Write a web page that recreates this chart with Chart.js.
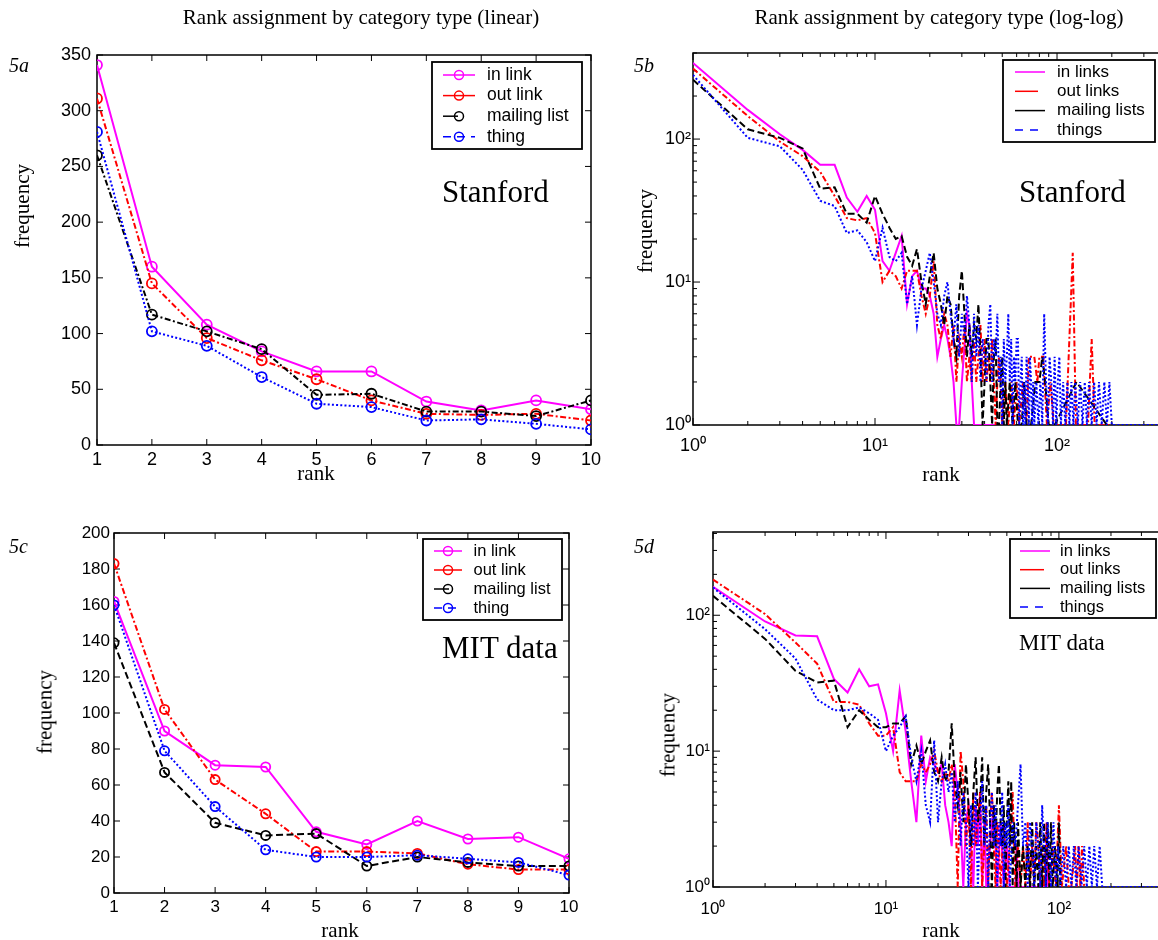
<!DOCTYPE html>
<html>
<head>
<meta charset="utf-8">
<script src="https://cdn.jsdelivr.net/npm/chart.js@4.4.1/dist/chart.umd.min.js"></script>
<style>
html, body { margin: 0; padding: 0; overflow: hidden; background: #fff; }
#page { position: relative; width: 1158px; height: 940px; overflow: hidden; }
canvas { position: absolute; }
.t { position: absolute; font-family: "Liberation Serif", "Times New Roman", serif; line-height: 1; white-space: nowrap; color: #000; }
.c { transform: translateX(-50%); }
.v { transform: translate(-50%, -50%) rotate(-90deg); }
</style>
</head>
<body>
<div id="page">
<canvas id="cA" width="610" height="480" style="left:0;top:0"></canvas>
<canvas id="cB" width="620" height="480" style="left:610px;top:0"></canvas>
<canvas id="cC" width="610" height="470" style="left:0;top:470px"></canvas>
<canvas id="cD" width="620" height="470" style="left:610px;top:470px"></canvas>

<div class="t c" style="left:361px;top:7px;font-size:21px">Rank assignment by category type (linear)</div>
<div class="t c" style="left:939px;top:7px;font-size:21px">Rank assignment by category type (log-log)</div>
<div class="t" style="left:9px;top:55px;font-size:20px;font-style:italic">5a</div>
<div class="t" style="left:634px;top:55px;font-size:20px;font-style:italic">5b</div>
<div class="t" style="left:9px;top:536px;font-size:20px;font-style:italic">5c</div>
<div class="t" style="left:634px;top:536px;font-size:20px;font-style:italic">5d</div>
<div class="t" style="left:442px;top:176px;font-size:31px">Stanford</div>
<div class="t" style="left:1019px;top:176px;font-size:31px">Stanford</div>
<div class="t" style="left:442px;top:632px;font-size:31px">MIT data</div>
<div class="t" style="left:1019px;top:631px;font-size:23px">MIT data</div>
<div class="t c" style="left:316px;top:463px;font-size:21px">rank</div>
<div class="t c" style="left:941px;top:464px;font-size:21px">rank</div>
<div class="t c" style="left:340px;top:920px;font-size:21px">rank</div>
<div class="t c" style="left:941px;top:920px;font-size:21px">rank</div>
<div class="t v" style="left:22px;top:206px;font-size:21px">frequency</div>
<div class="t v" style="left:645px;top:231px;font-size:21px">frequency</div>
<div class="t v" style="left:45px;top:712px;font-size:21px">frequency</div>
<div class="t v" style="left:668px;top:735px;font-size:21px">frequency</div>
</div>

<script>
// ranks 1..10 (linear panels, and the head of the log-log curves)
const ranks = [1, 2, 3, 4, 5, 6, 7, 8, 9, 10];

// Stanford
const stanIn    = [341, 160, 108, 84, 66, 66, 39, 31, 40, 32];
const stanOut   = [311, 145, 96, 76, 59, 40, 28, 27, 28, 22];
const stanMail  = [260, 117, 102, 86, 45, 46, 30, 30, 26, 40];
const stanThing = [281, 102, 89, 61, 37, 34, 22, 23, 19, 14];

// MIT
const mitIn    = [162, 90, 71, 70, 34, 27, 40, 30, 31, 19];
const mitOut   = [183, 102, 63, 44, 23, 23, 22, 16, 13, 13];
const mitMail  = [139, 67, 39, 32, 33, 15, 20, 17, 15, 15];
const mitThing = [160, 79, 48, 24, 20, 20, 21, 19, 17, 10];

// log-log tails, [rank, frequency] beyond rank 10
const stanInTail = [[11,14],[12,12],[13,16],[14,21],[15,7],[16,11],[17,12],[18,9],[19,9],[20,8],[21,6],[22,3],[23,4],[24,5],[25,4],[26,3],[27,2],[28,1],[29,1],[30,2],[32,6],[33,5],[34,2],[35,1],[47,1]];
const stanOutTail = [[11,10],[12,12],[13,11],[14,9],[15,12],[16,12],[17,12],[18,8],[19,6],[20,8],[21,14],[22,5],[23,4],[24,6],[25,5],[26,3],[27,5],[28,2],[29,4],[30,3],[31,5],[32,2],[33,3],[34,2],[35,4],[36,2],[37,3],[38,5],[39,2],[40,4],[41,2],[42,3],[43,2],[44,4],[45,2],[46,1],[47,2],[48,3],[49,2],[50,1],[52,2],[54,1],[56,2],[58,1],[60,2],[62,1],[65,2],[68,1],[70,3],[75,3],[78,2],[80,3],[84,3],[88,1],[92,2],[96,1],[112,1],[122,16],[127,1],[148,1],[155,4],[161,1],[200,1]];
const stanMailTail = [[11,30],[12,24],[13,20],[14,21],[15,15],[16,13],[17,17],[18,10],[19,7],[20,11],[21,16],[22,9],[23,7],[24,5],[25,8],[26,7],[27,4],[28,3],[29,8],[30,12],[31,6],[32,3],[33,5],[34,3],[35,5],[36,4],[37,7],[38,3],[39,1],[40,2],[41,4],[42,4],[43,2],[44,1],[45,3],[46,4],[47,1],[48,1],[49,2],[50,3],[51,1],[52,2],[53,1],[55,2],[57,1],[59,2],[61,1],[64,1],[66,2],[68,1],[72,1],[76,2],[80,2],[83,3],[86,2],[90,1],[97,1],[128,2],[188,1]];
const stanThingTail = [[11,24],[12,15],[13,14],[14,16],[15,7],[16,11],[17,5],[18,9],[19,12],[20,16],[21,10],[22,6],[23,5],[24,8],[25,10],[26,6],[27,4],[28,7],[29,3],[30,6],[31,4],[32,8],[33,5],[34,2],[35,6],[36,3],[37,5],[38,2],[39,4],[40,3],[41,2],[42,5],[43,7],[44,2],[45,4],[46,3],[47,6],[48,2],[49,3],[50,1],[51,4],[52,2],[53,3],[54,6],[55,2],[56,4],[57,1],[58,3],[59,2],[60,4],[61,4],[62,1],[63,2],[64,3],[65,1],[66,2],[67,1],[68,3],[69,2],[70,1],[71,3],[72,2],[73,1],[74,2],[75,1],[77,2],[79,1],[81,2],[83,1],[85,6],[87,2],[89,1],[91,3],[93,2],[95,1],[97,3],[99,1],[101,2],[103,3],[105,1],[108,2],[111,1],[114,2],[117,1],[120,2],[123,1],[126,2],[130,1],[134,2],[138,1],[142,2],[146,1],[150,2],[155,1],[160,2],[165,1],[170,2],[176,1],[182,2],[188,1],[194,2],[200,1],[1000,1]];

const mitInTail = [[11,10],[12,28],[13,14],[14,6],[15,3],[16,13],[17,6],[18,9],[19,8],[20,7],[21,8],[22,4],[23,3],[24,2],[25,8],[26,5],[27,3],[28,1],[29,3],[30,4],[31,2],[32,1],[33,4],[34,2],[35,5],[36,1],[37,3],[38,1],[40,2],[42,4],[44,1],[46,3],[48,1],[50,2],[52,1],[56,1],[57,2],[58,1],[84,1],[85,3],[86,1]];
const mitOutTail = [[11,15],[12,7],[13,6],[14,6],[15,6],[16,8],[17,7],[18,8],[19,10],[20,7],[21,6],[22,7],[23,6],[24,8],[25,5],[26,1],[27,10],[28,6],[29,2],[30,4],[31,1],[32,5],[33,2],[34,3],[35,5],[36,1],[37,2],[38,4],[39,1],[40,3],[41,5],[42,2],[43,1],[44,3],[45,2],[46,1],[48,3],[50,1],[52,2],[54,5],[56,1],[58,2],[60,1],[62,2],[64,1],[66,3],[68,1],[70,2],[72,1],[74,3],[76,2],[78,1],[80,2],[82,1],[85,3],[88,1],[92,2],[96,1],[100,4],[104,1],[110,2],[114,1],[118,1],[124,2],[127,1],[130,2],[133,1],[136,2],[140,1]];
const mitMailTail = [[11,16],[12,16],[13,18],[14,8],[15,11],[16,8],[17,10],[18,12],[19,7],[20,6],[21,9],[22,6],[23,7],[24,16],[25,6],[26,4],[27,7],[28,3],[29,8],[30,4],[31,2],[32,5],[33,9],[34,3],[35,4],[36,9],[37,2],[38,5],[39,8],[40,3],[41,1],[42,4],[43,2],[44,5],[45,8],[46,3],[47,2],[48,4],[49,1],[50,3],[51,6],[52,2],[53,6],[54,1],[55,3],[56,2],[57,1],[58,3],[60,1],[62,2],[64,1],[66,2],[68,1],[70,3],[72,1],[74,2],[76,1],[78,3],[80,1],[82,3],[84,1],[86,3],[88,1],[90,3],[92,1],[95,2],[98,1],[100,3],[102,1]];
const mitThingTail = [[11,13],[12,15],[13,18],[14,9],[15,6],[16,10],[17,4],[18,3],[19,12],[20,3],[21,6],[22,8],[23,5],[24,7],[25,3],[26,6],[27,2],[28,5],[29,3],[30,1],[31,4],[32,2],[33,5],[34,1],[35,3],[36,6],[37,2],[38,4],[39,1],[40,3],[41,5],[42,2],[43,4],[44,1],[45,3],[46,2],[47,5],[48,1],[49,3],[50,2],[51,4],[52,1],[54,3],[56,2],[58,4],[60,8],[62,2],[64,3],[66,1],[68,3],[70,2],[72,1],[74,3],[76,2],[78,1],[80,4],[82,2],[84,1],[86,3],[88,2],[90,1],[93,3],[96,1],[99,2],[102,1],[106,2],[110,1],[114,2],[118,1],[122,2],[126,1],[130,2],[135,1],[140,2],[145,1],[150,2],[155,1],[160,2],[166,1],[172,2],[178,1],[1000,1]];

const linLabels = ['in link', 'out link', 'mailing list', 'thing'];
const logLabels = ['in links', 'out links', 'mailing lists', 'things'];

const MAG = '#ff00ff', RED = '#ff0000', BLK = '#000000', BLU = '#0000ff';
const SOLID = [], DASHDOT = [6, 2.5, 2, 2.5], DASH = [7, 3.5], DOT = [2, 2.2];
const SANS = '"Liberation Sans", Arial, Helvetica, sans-serif';

function linPoints(vals) {
  return ranks.map((r, i) => ({x: r, y: vals[i]}));
}
function logPoints(head, tail) {
  return linPoints(head).concat(tail.map(p => ({x: p[0], y: p[1]})));
}

function linSet(label, vals, color, dash, order, legendDash, r) {
  return {
    label, data: linPoints(vals), borderColor: color, borderWidth: 2, borderDash: dash,
    pointRadius: r, pointBorderColor: color, pointBorderWidth: 1.8,
    pointBackgroundColor: 'rgba(0,0,0,0)', pointStyle: 'circle',
    tension: 0, fill: false, order, legendDash
  };
}
function logSet(label, pts, color, dash, order, legendDash, legendLen) {
  return {
    label, data: pts, borderColor: color, borderWidth: 2, borderDash: dash,
    pointRadius: 0, tension: 0, fill: false, order, legendDash, legendLen
  };
}

// inward MATLAB-like tick marks and the axes box
const frameTicks = {
  id: 'frameTicks',
  beforeDatasetsDraw(chart, args, opts) {
    const {ctx, chartArea: a} = chart;
    ctx.save();
    ctx.strokeStyle = '#000';
    ctx.lineWidth = 1;
    ['x', 'y'].forEach(id => {
      const s = chart.scales[id];
      const isLog = s.type === 'logarithmic';
      s.ticks.forEach(t => {
        const v = t.value;
        let len = opts.len;
        if (isLog) {
          const e = Math.floor(Math.log10(v) + 1e-9);
          const m = v / Math.pow(10, e);
          if (Math.abs(m - Math.round(m)) > 1e-6) return;
          len = Math.round(m) === 1 ? opts.len : opts.minor;
        }
        const p = s.getPixelForValue(v);
        ctx.beginPath();
        if (id === 'x') {
          ctx.moveTo(p, a.bottom); ctx.lineTo(p, a.bottom - len);
          ctx.moveTo(p, a.top); ctx.lineTo(p, a.top + len);
        } else {
          ctx.moveTo(a.left, p); ctx.lineTo(a.left + len, p);
          ctx.moveTo(a.right, p); ctx.lineTo(a.right - len, p);
        }
        ctx.stroke();
      });
    });
    ctx.lineWidth = opts.frame;
    ctx.strokeRect(a.left, a.top, a.right - a.left, a.bottom - a.top);
    ctx.restore();
  }
};

// boxed legend inside the plot
const boxLegend = {
  id: 'boxLegend',
  afterDatasetsDraw(chart, args, o) {
    const ctx = chart.ctx;
    ctx.save();
    ctx.fillStyle = '#fff';
    ctx.fillRect(o.x, o.y, o.w, o.h);
    ctx.lineWidth = 1.8;
    ctx.strokeStyle = '#000';
    ctx.strokeRect(o.x, o.y, o.w, o.h);
    ctx.font = o.size + 'px ' + SANS;
    ctx.textBaseline = 'middle';
    chart.data.datasets.forEach((ds, i) => {
      const y = o.y + o.first + i * o.row;
      const len = ds.legendLen || o.lineW;
      ctx.strokeStyle = ds.borderColor;
      ctx.lineWidth = 1.5;
      ctx.setLineDash(ds.legendDash || []);
      ctx.beginPath();
      ctx.moveTo(o.lineX, y);
      ctx.lineTo(o.lineX + len, y);
      ctx.stroke();
      ctx.setLineDash([]);
      if (o.marker) {
        ctx.beginPath();
        ctx.arc(o.lineX + o.lineW / 2, y, o.marker, 0, 2 * Math.PI);
        ctx.stroke();
      }
      ctx.fillStyle = '#000';
      ctx.fillText(ds.label, o.textX, y);
    });
    ctx.restore();
  }
};

const SUP = {'0': '\u2070', '1': '\u00b9', '2': '\u00b2', '3': '\u00b3'};
function powLabel(v) {
  const e = Math.log10(v);
  if (Math.abs(e - Math.round(e)) > 1e-9) return '';
  return '10' + String(Math.round(e)).split('').map(c => SUP[c]).join('');
}

function axis(type, min, max, size, pad, fit, extra) {
  const ax = {
    type, min, max,
    ticks: Object.assign({font: {family: SANS, size}, color: '#000', padding: pad, maxRotation: 0, autoSkip: false}, extra || {}),
    grid: {display: false, drawTicks: false},
    border: {display: false},
    afterFit: fit
  };
  if (type === 'logarithmic') ax.ticks.callback = v => powLabel(v);
  return ax;
}

function makeChart(id, datasets, xAx, yAx, padding, legend, ticks) {
  return new Chart(document.getElementById(id), {
    type: 'line',
    data: {datasets},
    options: {
      responsive: false, animation: false, devicePixelRatio: 1,
      layout: {padding},
      scales: {x: xAx, y: yAx},
      plugins: {legend: {display: false}, tooltip: {enabled: false}, boxLegend: legend, frameTicks: ticks}
    },
    plugins: [frameTicks, boxLegend]
  });
}

// 5a Stanford linear
makeChart('cA', [
  linSet(linLabels[0], stanIn, MAG, SOLID, 4, [], 5),
  linSet(linLabels[1], stanOut, RED, DASHDOT, 3, [], 5),
  linSet(linLabels[2], stanMail, BLK, DASHDOT, 2, [15, 17], 5),
  linSet(linLabels[3], stanThing, BLU, DOT, 1, [8, 6], 5)
],
  axis('linear', 1, 10, 18, 4, s => { s.height = 35; }, {stepSize: 1}),
  axis('linear', 0, 350, 18, 6, s => { s.width = 97; }, {stepSize: 50}),
  {top: 55, right: 19, left: 0, bottom: 0},
  {x: 432, y: 62, w: 150, h: 87, first: 13, row: 20.6, lineX: 443, lineW: 32, marker: 4.5, textX: 487, size: 17.5},
  {len: 6, minor: 6, frame: 1.5});

// 5b Stanford log-log
makeChart('cB', [
  logSet(logLabels[0], logPoints(stanIn, stanInTail), MAG, SOLID, 4, [], 30),
  logSet(logLabels[1], logPoints(stanOut, stanOutTail), RED, DASHDOT, 3, [], 23),
  logSet(logLabels[2], logPoints(stanMail, stanMailTail), BLK, DASH, 2, [], 30),
  logSet(logLabels[3], logPoints(stanThing, stanThingTail), BLU, DOT, 1, [8, 7], 30)
],
  axis('logarithmic', 1, 531, 18, 10, s => { s.height = 55; }),
  axis('logarithmic', 1, 400, 18, 2, s => { s.width = 83; }),
  {top: 53, right: 41, left: 0, bottom: 0},
  {x: 393, y: 60, w: 152, h: 82, first: 12, row: 19.3, lineX: 405, lineW: 30, marker: 0, textX: 447, size: 17},
  {len: 7, minor: 4, frame: 1.5});

// 5c MIT linear
makeChart('cC', [
  linSet(linLabels[0], mitIn, MAG, SOLID, 4, [], 4.6),
  linSet(linLabels[1], mitOut, RED, DASHDOT, 3, [], 4.6),
  linSet(linLabels[2], mitMail, BLK, DASH, 2, [15, 17], 4.6),
  linSet(linLabels[3], mitThing, BLU, DOT, 1, [8, 6], 4.6)
],
  axis('linear', 1, 10, 17, 4, s => { s.height = 47; }, {stepSize: 1}),
  axis('linear', 0, 200, 17, 4, s => { s.width = 114; }, {stepSize: 20}),
  {top: 63, right: 41, left: 0, bottom: 0},
  {x: 423, y: 69, w: 139, h: 81, first: 12, row: 19, lineX: 434, lineW: 28, marker: 4.5, textX: 473.5, size: 16.5},
  {len: 6, minor: 6, frame: 1.5});

// 5d MIT log-log
makeChart('cD', [
  logSet(logLabels[0], logPoints(mitIn, mitInTail), MAG, SOLID, 4, [], 30),
  logSet(logLabels[1], logPoints(mitOut, mitOutTail), RED, DASHDOT, 3, [], 24),
  logSet(logLabels[2], logPoints(mitMail, mitMailTail), BLK, DASH, 2, [], 30),
  logSet(logLabels[3], logPoints(mitThing, mitThingTail), BLU, DOT, 1, [8, 7], 30)
],
  axis('logarithmic', 1, 433, 17, 12, s => { s.height = 53; }),
  axis('logarithmic', 1, 410, 17, 3, s => { s.width = 103; }),
  {top: 62, right: 61, left: 0, bottom: 0},
  {x: 400, y: 69, w: 146, h: 79, first: 12, row: 18.7, lineX: 410, lineW: 30, marker: 0, textX: 450, size: 16.5},
  {len: 7, minor: 4, frame: 1.5});
</script>
</body>
</html>
